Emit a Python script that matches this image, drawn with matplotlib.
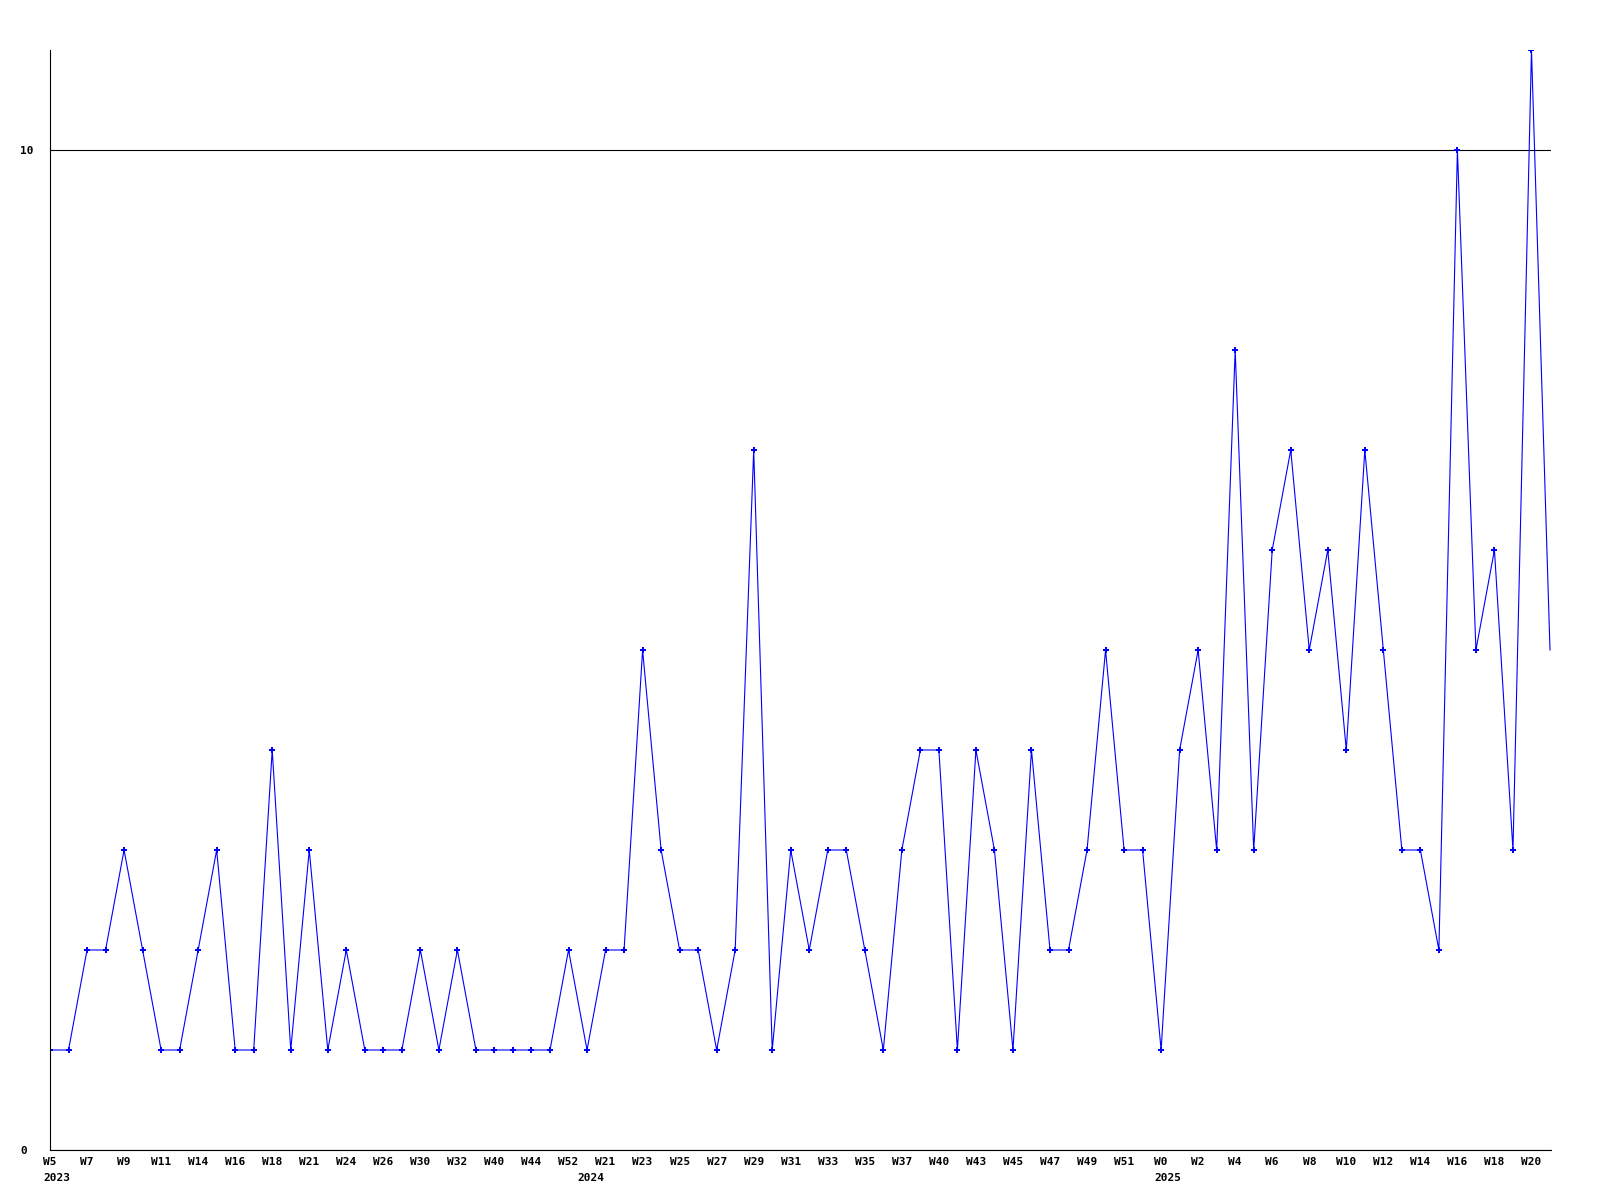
import matplotlib
matplotlib.use('Agg')
import matplotlib.pyplot as plt

# weekly counts, one per point (evenly spaced)
values = [1, 1, 2, 2, 3, 2, 1, 1, 2, 3, 1, 1, 4, 1, 3, 1, 2, 1, 1, 1,
          2, 1, 2, 1, 1, 1, 1, 1, 2, 1, 2, 2, 5, 3, 2, 2, 1, 2, 7, 1,
          3, 2, 3, 3, 2, 1, 3, 4, 4, 1, 4, 3, 1, 4, 2, 2, 3, 5, 3, 3,
          1, 4, 5, 3, 8, 3, 6, 7, 5, 6, 4, 7, 5, 3, 3, 2, 10, 5, 6, 3,
          11, 5]

# labels shown on every other point
week_labels = ['W5', 'W7', 'W9', 'W11', 'W14', 'W16', 'W18', 'W21', 'W24', 'W26',
               'W30', 'W32', 'W40', 'W44', 'W52', 'W21', 'W23', 'W25', 'W27', 'W29',
               'W31', 'W33', 'W35', 'W37', 'W40', 'W43', 'W45', 'W47', 'W49', 'W51',
               'W0', 'W2', 'W4', 'W6', 'W8', 'W10', 'W12', 'W14', 'W16', 'W18', 'W20']
years = ['2023', '2024', '2025']
year_pos = [0, 29, 60]

x = list(range(len(values)))
mono = dict(family='DejaVu Sans Mono', weight='bold', size=8)

fig = plt.figure(figsize=(16, 12), dpi=100)
ax = fig.add_axes([50 / 1600, 50 / 1200, 1501 / 1600, 1100 / 1200])

ax.plot(x, values, '-', color='#0000ff', lw=0.8)
ax.plot(x[:-1], values[:-1], 'P', color='#0000ff', markersize=4, markeredgewidth=0)

ax.set_xlim(0, 1501 / 1500 * (len(values) - 1))
ax.set_ylim(0, 11)

ax.set_yticks([0, 10])
ax.set_yticklabels(['0', '10'], fontdict=mono)
ax.grid(axis='y', color='black', lw=0.8)
ax.set_axisbelow(True)
for lab in ax.get_yticklabels():
    lab.set_horizontalalignment('left')
ax.tick_params(axis='y', length=0, pad=21.6)

ax.set_xticks(x[::2])
ax.set_xticklabels(week_labels, fontdict=mono)
ax.tick_params(axis='x', length=0, pad=5)

for yr, p in zip(years, year_pos):
    ax.annotate(yr, xy=(p, 0), xycoords='data', xytext=(-10 if p == 29 else -7, -23),
                textcoords='offset pixels', ha='left', va='top', **mono)

ax.spines['top'].set_visible(False)
ax.spines['right'].set_visible(False)
ax.spines['left'].set_linewidth(0.8)
ax.spines['bottom'].set_linewidth(0.8)

fig.savefig('out.png', dpi=100)
